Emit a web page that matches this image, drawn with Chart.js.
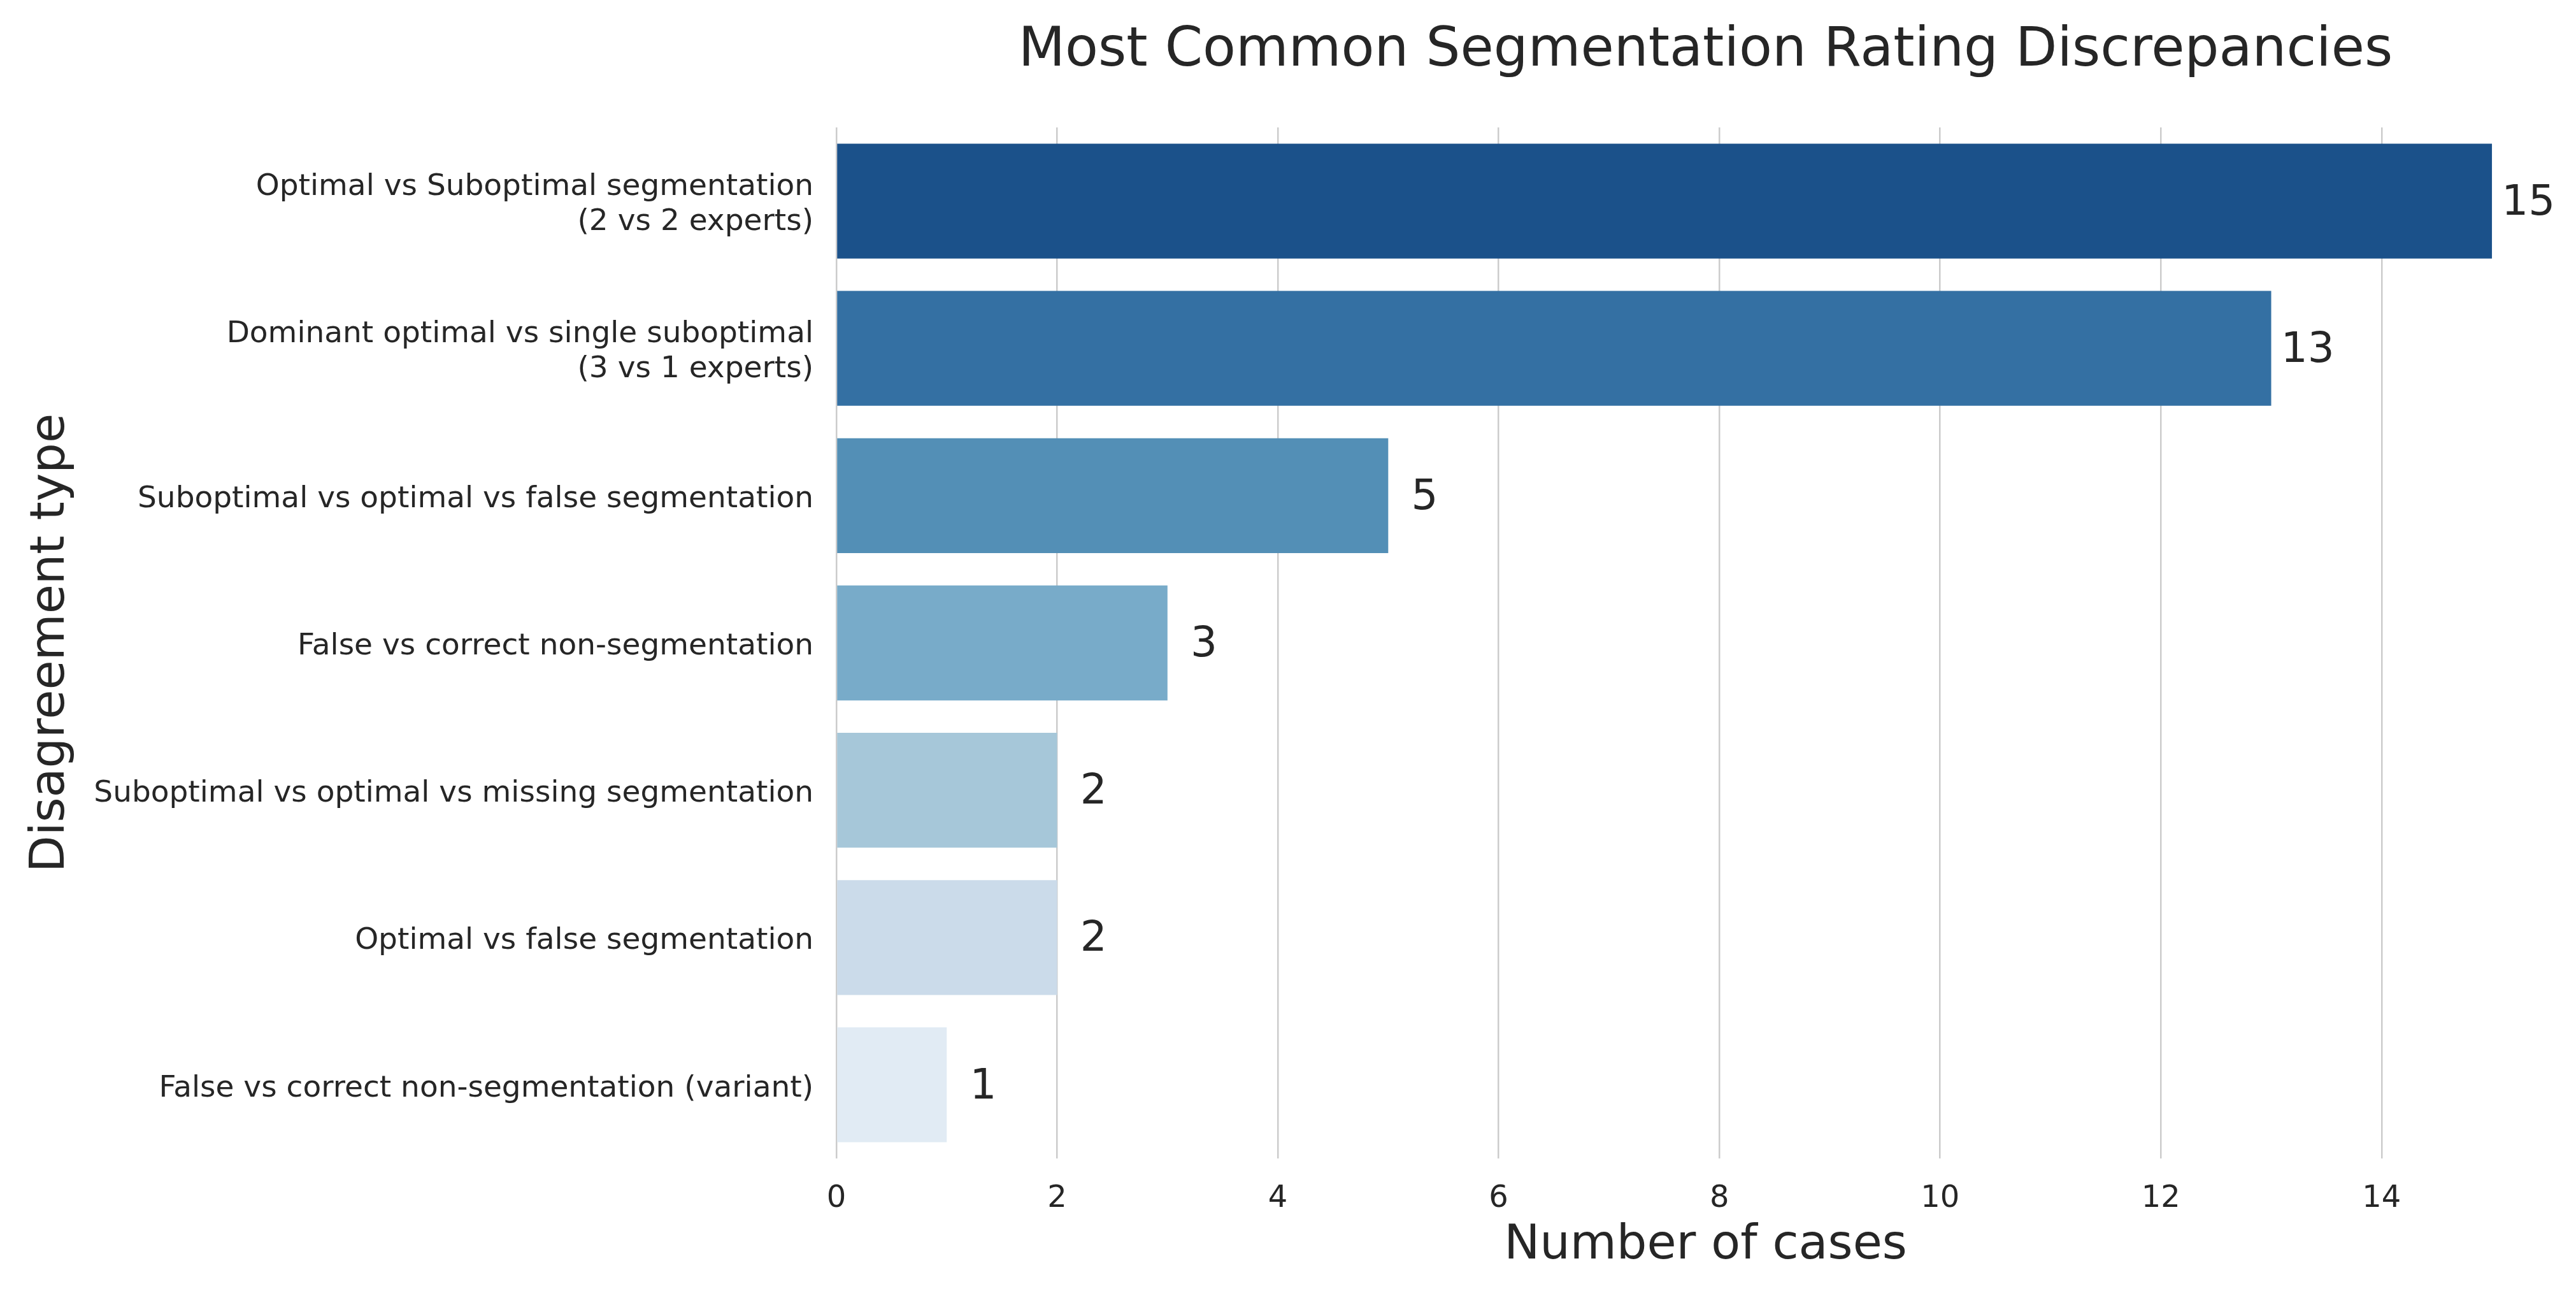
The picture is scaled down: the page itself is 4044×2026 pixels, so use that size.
<!DOCTYPE html>
<html>
<head>
<meta charset="utf-8">
<script src="https://cdn.jsdelivr.net/npm/chart.js@4/dist/chart.umd.min.js"></script>
<style>
  html, body { margin: 0; padding: 0; background: #ffffff; }
  canvas { display: block; }
</style>
</head>
<body>
<canvas id="c" width="4044" height="2026"></canvas>
<script>
const chartTitle = 'Most Common Segmentation Rating Discrepancies';
const xAxisTitle = 'Number of cases';
const yAxisTitle = 'Disagreement type';

const categories = [
  ['Optimal vs Suboptimal segmentation', '(2 vs 2 experts)'],
  ['Dominant optimal vs single suboptimal', '(3 vs 1 experts)'],
  'Suboptimal vs optimal vs false segmentation',
  'False vs correct non-segmentation',
  'Suboptimal vs optimal vs missing segmentation',
  'Optimal vs false segmentation',
  'False vs correct non-segmentation (variant)'
];
const caseCounts = [15, 13, 5, 3, 2, 2, 1];
const barColors = ['#1b518a', '#3470a3', '#538fb6', '#78abc9', '#a6c7d9', '#cbdbea', '#e1ebf4'];

const textColor = '#262626';
const fontFamily = "'DejaVu Sans', sans-serif";

const extrasPlugin = {
  id: 'extras',
  afterDatasetsDraw(chart) {
    const ctx = chart.ctx;
    const xs = chart.scales.x, ys = chart.scales.y;
    ctx.save();
    ctx.fillStyle = textColor;
    ctx.font = '66px ' + fontFamily;
    ctx.textAlign = 'center';
    ctx.textBaseline = 'middle';
    caseCounts.forEach((v, i) => {
      ctx.fillText(String(v), xs.getPixelForValue(v + 0.33), ys.getPixelForValue(i) + 4);
    });
    const ca = chart.chartArea;
    ctx.font = '85px ' + fontFamily;
    ctx.fillText(chartTitle, (ca.left + ca.right) / 2, 81);
    ctx.restore();
  }
};

new Chart(document.getElementById('c'), {
  type: 'bar',
  data: {
    labels: categories,
    datasets: [{
      data: caseCounts,
      backgroundColor: barColors,
      borderWidth: 0,
      barPercentage: 0.78,
      categoryPercentage: 1.0
    }]
  },
  options: {
    indexAxis: 'y',
    responsive: false,
    animation: false,
    devicePixelRatio: 1,
    layout: { padding: { top: 200, right: 2, bottom: 0, left: 0 } },
    plugins: {
      legend: { display: false },
      tooltip: { enabled: false },
      title: { display: false }
    },
    scales: {
      x: {
        type: 'linear',
        min: 0,
        max: 15.75,
        border: { display: false },
        grid: { color: '#cccccc', lineWidth: 2.5, drawTicks: false },
        ticks: {
          stepSize: 2,
          includeBounds: false,
          padding: 35,
          color: textColor,
          font: { family: fontFamily, size: 48, lineHeight: 1.2 }
        },
        title: {
          display: true,
          text: xAxisTitle,
          color: textColor,
          font: { family: fontFamily, size: 75, lineHeight: 1.2 },
          padding: { top: 0, bottom: 25 }
        },
        afterFit(scale) { scale.height = 208; }
      },
      y: {
        border: { display: false },
        grid: { display: false, drawTicks: false },
        ticks: {
          padding: 36,
          labelOffset: 6,
          color: textColor,
          font: { family: fontFamily, size: 47, lineHeight: 1.17 }
        },
        title: {
          display: true,
          text: yAxisTitle,
          color: textColor,
          font: { family: fontFamily, size: 75, lineHeight: 1.2 },
          padding: { top: 36, bottom: 0 }
        },
        afterFit(scale) { scale.width = 1313; }
      }
    }
  },
  plugins: [extrasPlugin]
});
</script>
</body>
</html>
